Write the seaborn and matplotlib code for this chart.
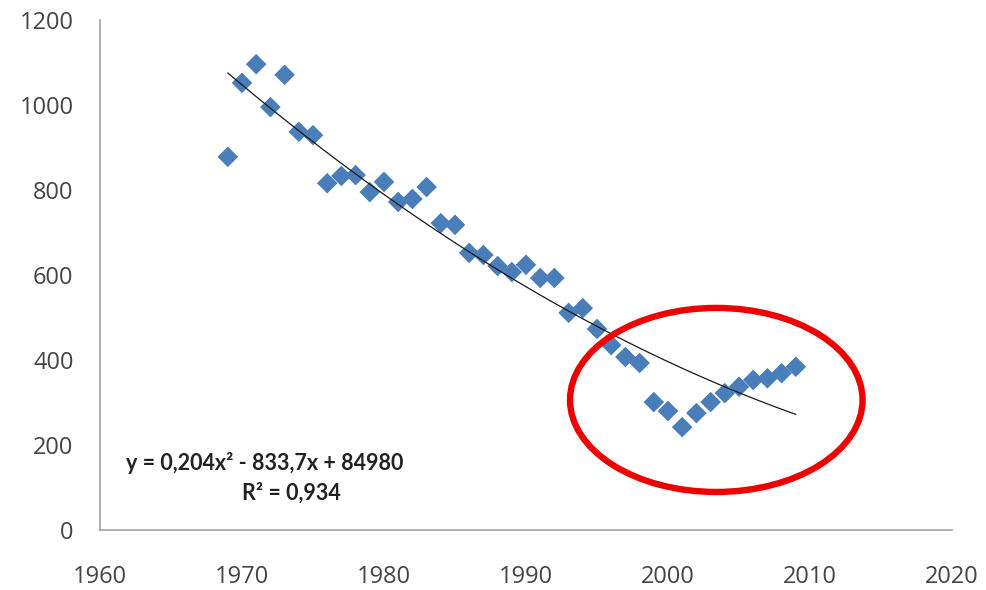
import matplotlib
matplotlib.use("Agg")
import matplotlib.pyplot as plt
from matplotlib.patches import Ellipse
import seaborn as sns
import pandas as pd

years = list(range(1969, 2010))
values = [878, 1052, 1096, 995, 1071, 937, 929, 816, 833, 835,
          795, 819, 772, 779, 807, 722, 718, 652, 647, 621,
          607, 624, 593, 593, 511, 522, 473, 435, 407, 393,
          301, 280, 242, 275, 301, 322, 337, 353, 357, 369, 384]
x_ticks = [1960, 1970, 1980, 1990, 2000, 2010, 2020]
y_ticks = [0, 200, 400, 600, 800, 1000, 1200]
eq_line1 = "y = 0,204x² - 833,7x + 84980"
eq_line2 = "R² = 0,934"

df = pd.DataFrame({"year": years, "value": values})

sns.set_theme(style="white")
plt.rcParams['font.family'] = ['Lato', 'DejaVu Sans']

fig = plt.figure(figsize=(9.86, 5.9), dpi=100)
ax = fig.add_axes([100/986, 1-530/590, 852/986, 510/590])

sns.scatterplot(data=df, x="year", y="value", marker="D", s=110,
                color="#4a7ebb", edgecolor="none", ax=ax, zorder=3)
sns.regplot(data=df, x="year", y="value", order=2, scatter=False, ci=None,
            truncate=True, line_kws=dict(color="#1a1a1a", lw=0.9, zorder=4), ax=ax)

ax.add_patch(Ellipse((2003.4, 306), 20.6, 433, fill=False,
                     edgecolor="#ee0000", lw=4.6, zorder=5, clip_on=False))

ax.text(1961.8, 158, eq_line1, ha="left", va="center", fontsize=15.5,
        fontweight="bold", color="#222222")
ax.text(1973.5, 87, eq_line2, ha="center", va="center", fontsize=15.5,
        fontweight="bold", color="#222222")

ax.set_xlim(1960, 2020)
ax.set_ylim(0, 1200)
ax.set_xticks(x_ticks)
ax.set_yticks(y_ticks)
ax.set_xlabel("")
ax.set_ylabel("")
for s in ["top", "right"]:
    ax.spines[s].set_visible(False)
for s in ["left", "bottom"]:
    ax.spines[s].set_color("#a0a0a0")
    ax.spines[s].set_linewidth(1.2)
ax.tick_params(axis="both", which="both", direction="out", length=5,
               width=1, color="#a0a0a0", labelsize=17, labelcolor="#444444")
for lab in ax.get_xticklabels() + ax.get_yticklabels():
    lab.set_family(['Open Sans', 'DejaVu Sans'])
ax.tick_params(axis="x", pad=20)
ax.tick_params(axis="y", pad=14)
ax.grid(False)

fig.savefig("out.png", dpi=100, facecolor="white")
